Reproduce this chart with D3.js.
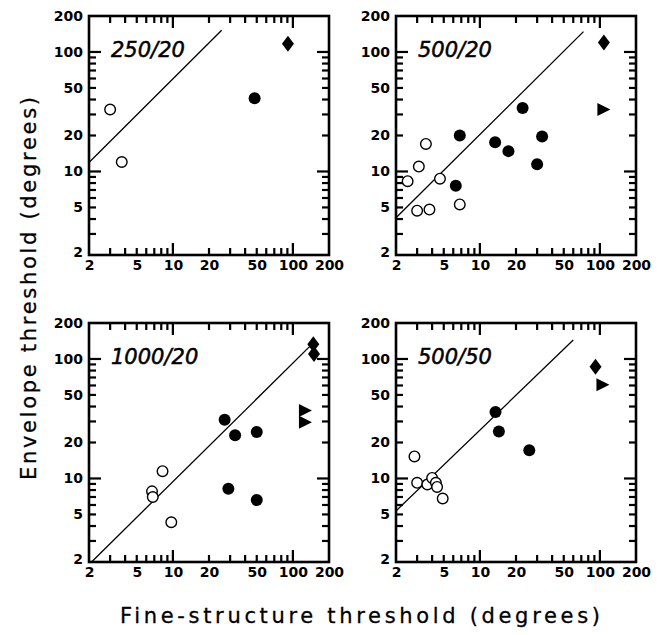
<!DOCTYPE html>
<html>
<head>
<meta charset="utf-8">
<script src="https://cdn.jsdelivr.net/npm/d3@7"></script>
<style>
  html, body { margin: 0; padding: 0; background: #fff; }
  svg { display: block; }
</style>
</head>
<body>
<svg id="chart" width="663" height="635"></svg>
<script>
// ---------- DATA ----------
const panelTitles = ["250/20", "500/20", "1000/20", "500/50"];
const tickLabels = [2, 5, 10, 20, 50, 100, 200];
const minorTicks = [3, 4, 5, 6, 7, 8, 9, 20, 30, 40, 50, 60, 70, 80, 90];
const majorTicks = [10, 100];

const p1Open = [[3.0, 33], [3.75, 12]];
const p1Filled = [[48, 41]];
const p1Diamond = [[91, 117]];
const p1Tri = [];
const p1Line = [[2, 11.9], [25.5, 152]];

const p2Open = [[2.5, 8.3], [3.0, 4.7], [3.1, 11], [3.55, 17], [3.8, 4.8], [4.65, 8.7], [6.8, 5.3]];
const p2Filled = [[6.3, 7.6], [6.8, 20], [13.4, 17.6], [17.3, 14.8], [22.7, 34], [30, 11.5], [33, 19.6]];
const p2Diamond = [[108, 120]];
const p2Tri = [[107, 33]];
const p2Line = [[2, 4.1], [73, 148]];

const p3Open = [[6.7, 7.8], [6.8, 7.0], [8.2, 11.5], [9.7, 4.3]];
const p3Filled = [[27, 31], [33, 23], [50, 24.5], [29, 8.2], [50, 6.6]];
const p3Diamond = [[148, 133], [150, 110]];
const p3Tri = [[126, 37], [126, 29.5]];
const p3Line = [[2.1, 2], [139, 128]];

const p4Open = [[2.85, 15.3], [3.0, 9.2], [3.65, 8.9], [4.0, 10.1], [4.3, 9.2], [4.4, 8.5], [4.9, 6.8]];
const p4Filled = [[13.5, 36], [14.4, 24.7], [25.8, 17.2]];
const p4Diamond = [[92, 86]];
const p4Tri = [[105, 61]];
const p4Line = [[2, 5.35], [60, 144]];

const xTitle = "Fine-structure threshold (degrees)";
const yTitle = "Envelope threshold (degrees)";

// ---------- LAYOUT ----------
const W = 240, H = 239;
const panels = [
  {left: 89,  top: 16,  title: panelTitles[0], open: p1Open, filled: p1Filled, diamond: p1Diamond, tri: p1Tri, line: p1Line},
  {left: 396, top: 16,  title: panelTitles[1], open: p2Open, filled: p2Filled, diamond: p2Diamond, tri: p2Tri, line: p2Line},
  {left: 89,  top: 323, title: panelTitles[2], open: p3Open, filled: p3Filled, diamond: p3Diamond, tri: p3Tri, line: p3Line},
  {left: 396, top: 323, title: panelTitles[3], open: p4Open, filled: p4Filled, diamond: p4Diamond, tri: p4Tri, line: p4Line}
];

const x = d3.scaleLog().domain([2, 200]).range([0, W]);
const y = d3.scaleLog().domain([2, 200]).range([H, 0]);

const svg = d3.select("#chart");

const tickSpecs = [].concat(
  minorTicks.map(v => ({v: v, len: 7})),
  majorTicks.map(v => ({v: v, len: 12}))
);
const TICK_COLOR = "#000";

panels.forEach(p => {
  const g = svg.append("g").attr("transform", `translate(${p.left},${p.top})`);

  // frame
  g.append("rect").attr("x", 0).attr("y", 0).attr("width", W).attr("height", H)
    .attr("fill", "none").attr("stroke", "#000").attr("stroke-width", 2.6);

  // inward ticks on all four sides
  g.selectAll(".tb").data(tickSpecs).enter().append("line")
    .attr("x1", d => x(d.v)).attr("x2", d => x(d.v)).attr("y1", H).attr("y2", d => H - d.len)
    .attr("stroke", TICK_COLOR).attr("stroke-width", 2.2);
  g.selectAll(".tt").data(tickSpecs).enter().append("line")
    .attr("x1", d => x(d.v)).attr("x2", d => x(d.v)).attr("y1", 0).attr("y2", d => d.len)
    .attr("stroke", TICK_COLOR).attr("stroke-width", 2.2);
  g.selectAll(".tl").data(tickSpecs).enter().append("line")
    .attr("y1", d => y(d.v)).attr("y2", d => y(d.v)).attr("x1", 0).attr("x2", d => d.len)
    .attr("stroke", TICK_COLOR).attr("stroke-width", 2.2);
  g.selectAll(".tr").data(tickSpecs).enter().append("line")
    .attr("y1", d => y(d.v)).attr("y2", d => y(d.v)).attr("x1", W).attr("x2", d => W - d.len)
    .attr("stroke", TICK_COLOR).attr("stroke-width", 2.2);

  // tick labels
  const xl = g.append("g").attr("transform", `translate(0,${H})`)
    .call(d3.axisBottom(x).tickValues(tickLabels).tickSize(0).tickPadding(5).tickFormat(d3.format("d")));
  xl.select(".domain").remove();
  xl.selectAll("text").attr("font-family", "DejaVu Sans").attr("font-weight", "bold")
    .attr("font-size", 14).attr("fill", "#000");

  const yl = g.append("g")
    .call(d3.axisLeft(y).tickValues(tickLabels).tickSize(0).tickPadding(6).tickFormat(d3.format("d")));
  yl.select(".domain").remove();
  yl.selectAll("text").attr("font-family", "DejaVu Sans").attr("font-weight", "bold")
    .attr("font-size", 14).attr("fill", "#000");
  yl.selectAll(".tick").filter(d => d === 2).select("text").attr("dy", "0.1em");

  // reference line
  g.append("path")
    .datum(p.line)
    .attr("d", d3.line().x(d => x(d[0])).y(d => y(d[1])))
    .attr("fill", "none").attr("stroke", "#000").attr("stroke-width", 1.3);

  // open circles
  g.selectAll(".open").data(p.open).enter().append("circle")
    .attr("cx", d => x(d[0])).attr("cy", d => y(d[1])).attr("r", 5.3)
    .attr("fill", "#fff").attr("stroke", "#000").attr("stroke-width", 1.4);

  // filled circles
  g.selectAll(".filled").data(p.filled).enter().append("circle")
    .attr("cx", d => x(d[0])).attr("cy", d => y(d[1])).attr("r", 6)
    .attr("fill", "#000");

  // diamonds
  g.selectAll(".diamond").data(p.diamond).enter().append("path")
    .attr("transform", d => `translate(${x(d[0])},${y(d[1])})`)
    .attr("d", "M0,-8L6,0L0,8L-6,0Z").attr("fill", "#000");

  // right-pointing triangles
  g.selectAll(".tri").data(p.tri).enter().append("path")
    .attr("transform", d => `translate(${x(d[0])},${y(d[1])})`)
    .attr("d", "M-6,-6.5L7,0L-6,6.5Z").attr("fill", "#000");

  // panel title
  g.append("text").attr("x", 22).attr("y", 41)
    .attr("font-family", "DejaVu Sans").attr("font-style", "italic")
    .attr("font-size", 21).attr("fill", "#000")
    .attr("stroke", "#000").attr("stroke-width", 0.5)
    .text(p.title);
});

// axis titles
svg.append("text")
  .attr("x", 120).attr("y", 623)
  .attr("font-family", "DejaVu Sans").attr("font-size", 21).attr("fill", "#000")
  .attr("stroke", "#000").attr("stroke-width", 0.3)
  .attr("textLength", 480).attr("lengthAdjust", "spacing")
  .text(xTitle);

svg.append("text")
  .attr("transform", "translate(36,480) rotate(-90)")
  .attr("x", 0).attr("y", 0)
  .attr("font-family", "DejaVu Sans").attr("font-size", 21).attr("fill", "#000")
  .attr("stroke", "#000").attr("stroke-width", 0.3)
  .attr("textLength", 383).attr("lengthAdjust", "spacing")
  .text(yTitle);
</script>
</body>
</html>
